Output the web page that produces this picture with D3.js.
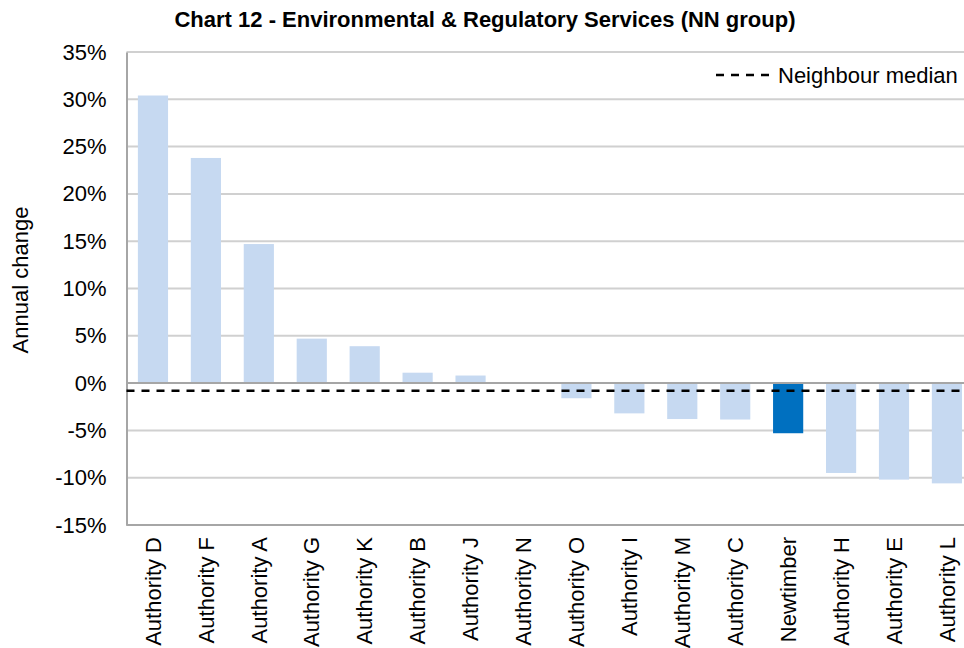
<!DOCTYPE html>
<meta charset="utf-8">
<style>
body { margin: 0; background: #fff; }
text { font-family: "Liberation Sans", Arial, sans-serif; fill: #000; }
.title { font-size: 22px; font-weight: bold; text-anchor: middle; }
.tick text { font-size: 22px; }
.grid line { stroke: #d0d0d0; stroke-width: 2px; }
</style>
<svg width="964" height="648"></svg>
<script src="https://d3js.org/d3.v7.min.js"></script>
<script>

var authorities = ["Authority D", "Authority F", "Authority A", "Authority G", "Authority K", "Authority B",
    "Authority J", "Authority N", "Authority O", "Authority I", "Authority M", "Authority C",
    "Newtimber", "Authority H", "Authority E", "Authority L"];
var changes = [30.4, 23.8, 14.7, 4.7, 3.9, 1.1, 0.8, 0, -1.6, -3.2, -3.8, -3.85, -5.3, -9.5, -10.2, -10.6];
var median = -0.8;
var yTicks = [35, 30, 25, 20, 15, 10, 5, 0, -5, -10, -15];
var highlight = "Newtimber";

var svg = d3.select("svg");
var plotLeft = 126.5, plotRight = 973.4, plotTop = 52, plotBottom = 525;

var x = d3.scaleBand()
    .domain(authorities)
    .range([plotLeft, plotRight])
    .paddingInner(0.43)
    .paddingOuter(0.215);

var y = d3.scaleLinear()
    .domain([-15, 35])
    .range([plotBottom, plotTop]);

// gridlines
svg.append("g")
    .attr("class", "grid")
    .selectAll("line")
    .data(yTicks)
    .enter().append("line")
    .attr("x1", plotLeft).attr("x2", plotRight)
    .attr("y1", function(d) { return y(d); })
    .attr("y2", function(d) { return y(d); });

// bars
svg.append("g")
    .selectAll("rect")
    .data(changes)
    .enter().append("rect")
    .attr("x", function(d, i) { return x(authorities[i]); })
    .attr("width", x.bandwidth())
    .attr("y", function(d) { return y(Math.max(0, d)); })
    .attr("height", function(d) { return Math.abs(y(d) - y(0)); })
    .attr("fill", function(d, i) { return authorities[i] == highlight ? "#0070c0" : "#c6d9f1"; });

// zero line and bottom frame
svg.append("line")
    .attr("x1", plotLeft).attr("x2", plotRight)
    .attr("y1", y(0)).attr("y2", y(0))
    .attr("stroke", "#a6a6a6").attr("stroke-width", 2);

svg.append("line")
    .attr("x1", plotLeft).attr("x2", plotRight)
    .attr("y1", plotBottom).attr("y2", plotBottom)
    .attr("stroke", "#a6a6a6").attr("stroke-width", 2);

// y axis
var yAxis = svg.append("g")
    .attr("transform", "translate(" + plotLeft + ",0)")
    .call(d3.axisLeft(y).tickValues(yTicks).tickSize(0).tickPadding(20)
        .tickFormat(function(d) { return d + "%"; }));
yAxis.select(".domain").attr("stroke", "#a6a6a6").attr("stroke-width", 2);

// x axis labels
var xAxis = svg.append("g")
    .attr("transform", "translate(0," + plotBottom + ")")
    .call(d3.axisBottom(x).tickSize(0));
xAxis.select(".domain").remove();
xAxis.selectAll("text")
    .attr("transform", "rotate(-90)")
    .attr("text-anchor", "end")
    .attr("x", -12)
    .attr("y", 0)
    .attr("dy", "0.35em");

// median line
svg.append("line")
    .attr("x1", plotLeft).attr("x2", plotRight)
    .attr("y1", y(median)).attr("y2", y(median))
    .attr("stroke", "#000").attr("stroke-width", 2.5)
    .attr("stroke-dasharray", "8,7");

// legend
svg.append("line")
    .attr("x1", 716).attr("x2", 771)
    .attr("y1", 75).attr("y2", 75)
    .attr("stroke", "#000").attr("stroke-width", 2.5)
    .attr("stroke-dasharray", "8,7");
svg.append("text")
    .attr("x", 778).attr("y", 75)
    .attr("dy", "0.35em")
    .style("font-size", "22px")
    .text("Neighbour median");

// title
svg.append("text")
    .attr("class", "title")
    .attr("x", 485).attr("y", 27)
    .text("Chart 12 - Environmental & Regulatory Services (NN group)");

// y label
svg.append("text")
    .attr("transform", "translate(20,280) rotate(-90)")
    .attr("text-anchor", "middle")
    .attr("dy", "0.35em")
    .style("font-size", "22px")
    .text("Annual change");

</script>
